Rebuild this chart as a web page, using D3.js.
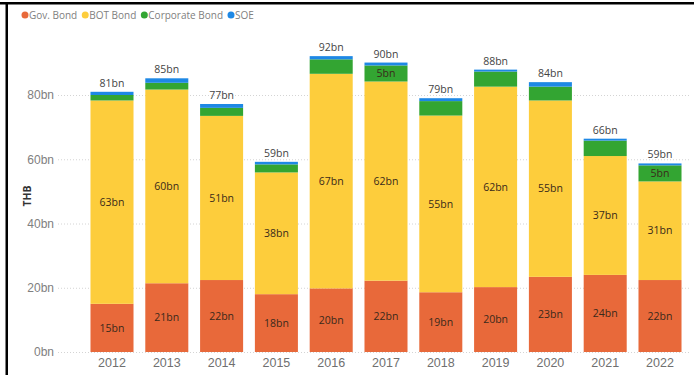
<!DOCTYPE html>
<html>
<head>
<meta charset="utf-8">
<script src="https://cdn.jsdelivr.net/npm/d3@7"></script>
<style>
  html, body { margin: 0; padding: 0; background: #fff; }
  svg { display: block; font-family: "Segoe UI", "Open Sans", "Noto Sans", sans-serif; }
</style>
</head>
<body>
<svg id="chart" width="694" height="375"></svg>
<script>
// Bond issuance by type, THB billions
const years = ["2012","2013","2014","2015","2016","2017","2018","2019","2020","2021","2022"];
const govBond  = [15.0, 21.4, 22.4, 18.0, 19.8, 22.2, 18.6, 20.2, 23.4, 24.0, 22.4];
const botBond  = [63.3, 60.3, 51.1, 37.9, 66.8, 62.0, 55.0, 62.4, 54.9, 37.0, 30.7];
const corpBond = [1.7, 2.1, 2.5, 2.5, 4.5, 5.0, 4.5, 4.7, 4.3, 4.8, 5.0];
const soeBond  = [1.0, 1.4, 1.2, 0.8, 1.0, 0.9, 0.9, 0.6, 1.4, 0.6, 0.6];
const yTicks = [0, 20, 40, 60, 80];

const seriesNames = ["Gov. Bond", "BOT Bond", "Corporate Bond", "SOE"];
const seriesColors = ["#E8693A", "#FDCD3C", "#33A532", "#1E88E5"];
const seriesValues = [govBond, botBond, corpBond, soeBond];
const labelMin = [0, 0, 5, Infinity]; // smallest value that gets an inside label

const rows = years.map((y, i) => {
  const r = { year: y };
  seriesNames.forEach((s, k) => r[s] = seriesValues[k][i]);
  r.total = seriesValues.reduce((a, v) => a + v[i], 0);
  return r;
});

const svg = d3.select("#chart");
const fmt = v => Math.round(v) + "bn";

const x = d3.scaleBand().domain(years).range([84.6, 687.4]).paddingInner(0.215).paddingOuter(0.1075);
const y = d3.scaleLinear().domain([0, 80]).range([352, 95]);

// frame edges
svg.append("rect").attr("x", 0).attr("y", 2).attr("width", 694).attr("height", 2.5).attr("fill", "#000");
svg.append("rect").attr("x", 5.5).attr("y", 2).attr("width", 2.5).attr("height", 373).attr("fill", "#000");

// gridlines
svg.append("g").selectAll("line").data(yTicks).join("line")
  .attr("x1", 58).attr("x2", 690)
  .attr("y1", d => y(d) + 0.5).attr("y2", d => y(d) + 0.5)
  .attr("stroke", "#d4d4d4").attr("stroke-width", 1).attr("stroke-dasharray", "1,2");

// y axis labels
const yAxis = svg.append("g").attr("transform", "translate(54,0)")
  .call(d3.axisLeft(y).tickValues(yTicks).tickFormat(d => d + "bn").tickSize(0).tickPadding(0));
yAxis.select(".domain").remove();
yAxis.selectAll("text").attr("fill", "#808080").attr("font-size", 12).attr("font-family", null);

svg.append("text").attr("transform", "translate(31,196) rotate(-90)")
  .attr("text-anchor", "middle").attr("font-size", 10.5).attr("font-weight", "bold").attr("fill", "#333")
  .text("THB");

// x axis labels
const xAxis = svg.append("g").attr("transform", "translate(0,356)")
  .call(d3.axisBottom(x).tickSize(0).tickPadding(2));
xAxis.select(".domain").remove();
xAxis.selectAll("text").attr("fill", "#707070").attr("font-size", 12.5).attr("font-family", null);

// stacked bars
const stacked = d3.stack().keys(seriesNames)(rows);
const layers = svg.append("g").selectAll("g").data(stacked).join("g")
  .attr("fill", (d, k) => seriesColors[k]);
layers.selectAll("rect").data(d => d).join("rect")
  .attr("x", d => x(d.data.year))
  .attr("width", x.bandwidth())
  .attr("y", d => y(d[1]))
  .attr("height", d => y(d[0]) - y(d[1]));

// inside labels
stacked.forEach((layer, k) => {
  svg.append("g").selectAll("text")
    .data(layer.filter(d => d[1] - d[0] >= labelMin[k]))
    .join("text")
    .attr("x", d => x(d.data.year) + x.bandwidth() / 2)
    .attr("y", d => (y(d[0]) + y(d[1])) / 2)
    .attr("dy", "0.35em")
    .attr("text-anchor", "middle")
    .attr("font-size", 10.5)
    .attr("fill", "#3a2a1a")
    .text(d => fmt(d[1] - d[0]));
});

// totals above bars
svg.append("g").selectAll("text").data(rows).join("text")
  .attr("x", d => x(d.year) + x.bandwidth() / 2)
  .attr("y", d => y(d.total) - 5)
  .attr("text-anchor", "middle")
  .attr("font-size", 10.5)
  .attr("fill", "#444")
  .text(d => fmt(d.total));

// legend
const legend = svg.append("g").attr("transform", "translate(25,15)");
let lx = 0;
seriesNames.forEach((s, k) => {
  legend.append("circle").attr("cx", lx).attr("cy", 0).attr("r", 3.5).attr("fill", seriesColors[k]);
  const t = legend.append("text").attr("x", lx + 4).attr("y", 0).attr("dy", "0.35em")
    .attr("font-size", 10).attr("fill", "#808080").text(s);
  lx += 4 + t.node().getComputedTextLength() + 8;
});
</script>
</body>
</html>
